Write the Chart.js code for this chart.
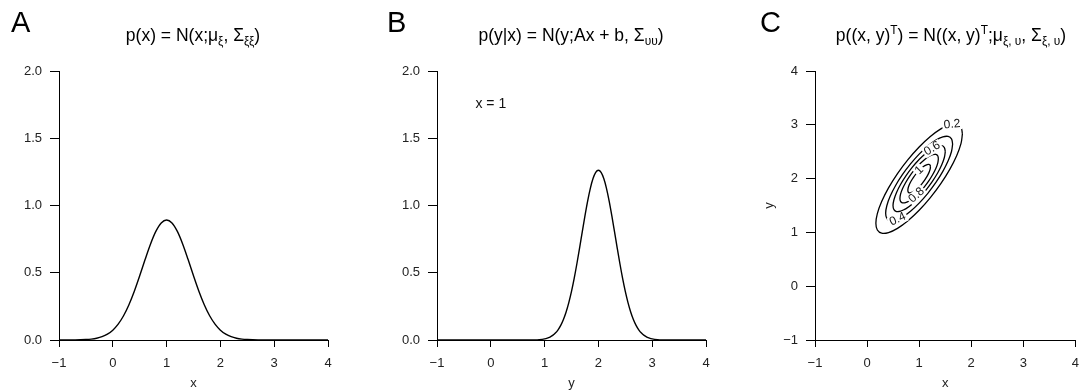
<!DOCTYPE html>
<html>
<head>
<meta charset="utf-8">
<script src="https://cdn.jsdelivr.net/npm/chart.js@4/dist/chart.umd.min.js"></script>
<style>
  html, body { margin: 0; padding: 0; background: #fff; overflow: hidden; }
  #stage { position: relative; width: 1088px; height: 391px; }
  canvas { position: absolute; top: 0; }
  .letter { position: absolute; top: 8px; font-family: "Liberation Sans", Arial, sans-serif; font-size: 29px; line-height: 29px; color: #000; }
  .title { position: absolute; top: 25px; width: 340px; text-align: center; font-family: "Liberation Sans", Arial, sans-serif;
           font-size: 17.5px; line-height: 20px; color: #000; white-space: nowrap; }
  .title sub { font-size: 68%; vertical-align: -0.35em; line-height: 0; }
  .title sup { font-size: 68%; vertical-align: 0.55em; line-height: 0; }
</style>
</head>
<body>
<div id="stage">
  <canvas id="panelA" width="378" height="391" style="left:0px"></canvas>
  <canvas id="panelB" width="378" height="391" style="left:378px"></canvas>
  <canvas id="panelC" width="332" height="391" style="left:756px"></canvas>

  <div class="letter" style="left:11px">A</div>
  <div class="letter" style="left:387px">B</div>
  <div class="letter" style="left:760px">C</div>

  <div class="title" style="left:23px">p(x) = N(x;μ<sub>ξ</sub>, Σ<sub>ξξ</sub>)</div>
  <div class="title" style="left:401px">p(y|x) = N(y;Ax + b, Σ<sub>υυ</sub>)</div>
  <div class="title" style="left:781px">p((x, y)<sup>T</sup>) = N((x, y)<sup>T</sup>;μ<sub>ξ, υ</sub>, Σ<sub>ξ, υ</sub>)</div>
</div>

<script>
// ---- axis ticks ----
const xTicks = [-1, 0, 1, 2, 3, 4];
const densityTicks = [0, 0.5, 1, 1.5, 2];
const jointYTicks = [-1, 0, 1, 2, 3, 4];

// ---- A: marginal density of x ----
const gridA = [-1.0, -0.9, -0.8, -0.7, -0.6, -0.5, -0.4, -0.3, -0.2, -0.1,
               0.0, 0.1, 0.2, 0.3, 0.4, 0.5, 0.6, 0.7, 0.8, 0.9, 1.0,
               1.1, 1.2, 1.3, 1.4, 1.5, 1.6, 1.7, 1.8, 1.9, 2.0,
               2.1, 2.2, 2.3, 2.4, 2.5, 2.6, 2.7, 2.8, 2.9, 3.0, 3.5, 4.0];
const densityA = [0.0000, 0.0001, 0.0003, 0.0006, 0.0015, 0.0032, 0.0066, 0.0130, 0.0244, 0.0433,
                  0.0732, 0.1178, 0.1801, 0.2621, 0.3627, 0.4775, 0.5980, 0.7124, 0.8072, 0.8701, 0.8921,
                  0.8701, 0.8072, 0.7124, 0.5980, 0.4775, 0.3627, 0.2621, 0.1801, 0.1178, 0.0732,
                  0.0433, 0.0244, 0.0130, 0.0066, 0.0032, 0.0015, 0.0006, 0.0003, 0.0001, 0.0000, 0.0000, 0.0000];

// ---- B: conditional density of y given x = 1 ----
const gridB = [-1.0, 0.0, 0.5, 0.6, 0.7, 0.8, 0.9,
               1.0, 1.05, 1.1, 1.15, 1.2, 1.25, 1.3, 1.35, 1.4, 1.45, 1.5, 1.55, 1.6, 1.65, 1.7, 1.75, 1.8, 1.85, 1.9, 1.95, 2.0,
               2.05, 2.1, 2.15, 2.2, 2.25, 2.3, 2.35, 2.4, 2.45, 2.5, 2.55, 2.6, 2.65, 2.7, 2.75, 2.8, 2.85, 2.9, 2.95, 3.0,
               3.1, 3.2, 3.3, 3.4, 3.5, 4.0];
const densityB = [0.0000, 0.0000, 0.0000, 0.0001, 0.0003, 0.0009, 0.0030,
                  0.0085, 0.0138, 0.0220, 0.0340, 0.0514, 0.0758, 0.1089, 0.1526, 0.2085, 0.2780, 0.3615, 0.4583, 0.5669, 0.6838, 0.8044, 0.9230, 1.0329, 1.1274, 1.2001, 1.2459, 1.2616,
                  1.2459, 1.2001, 1.1274, 1.0329, 0.9230, 0.8044, 0.6838, 0.5669, 0.4583, 0.3615, 0.2780, 0.2085, 0.1526, 0.1089, 0.0758, 0.0514, 0.0340, 0.0220, 0.0138, 0.0085,
                  0.0030, 0.0009, 0.0003, 0.0001, 0.0000, 0.0000];

// ---- C: joint density contours, one ring of (x, y) points per level ----
const contourLevels = [0.2, 0.4, 0.6, 0.8, 1];
const contour02 = [[1.831,2.831],[1.803,2.955],[1.720,3.014],[1.588,3.003],[1.416,2.925],[1.215,2.783],
                   [1.000,2.588],[0.785,2.353],[0.584,2.093],[0.412,1.828],[0.280,1.574],[0.197,1.349],
                   [0.169,1.169],[0.197,1.045],[0.280,0.986],[0.412,0.997],[0.584,1.075],[0.785,1.217],
                   [1.000,1.412],[1.215,1.647],[1.416,1.907],[1.588,2.172],[1.720,2.426],[1.803,2.651]];
const contour04 = [[1.643,2.643],[1.621,2.739],[1.557,2.784],[1.455,2.776],[1.322,2.716],[1.166,2.606],
                   [1.000,2.455],[0.834,2.273],[0.678,2.072],[0.545,1.867],[0.443,1.670],[0.379,1.496],
                   [0.357,1.357],[0.379,1.261],[0.443,1.216],[0.545,1.224],[0.678,1.284],[0.834,1.394],
                   [1.000,1.545],[1.166,1.727],[1.322,1.928],[1.455,2.133],[1.557,2.330],[1.621,2.504]];
const contour06 = [[1.502,2.502],[1.484,2.576],[1.434,2.612],[1.355,2.605],[1.251,2.558],[1.130,2.472],
                   [1.000,2.355],[0.870,2.213],[0.749,2.056],[0.645,1.896],[0.566,1.743],[0.516,1.607],
                   [0.498,1.498],[0.516,1.424],[0.566,1.388],[0.645,1.395],[0.749,1.442],[0.870,1.528],
                   [1.000,1.645],[1.130,1.787],[1.251,1.944],[1.355,2.104],[1.434,2.257],[1.484,2.393]];
const contour08 = [[1.369,2.369],[1.357,2.424],[1.320,2.451],[1.261,2.446],[1.185,2.411],[1.096,2.348],
                   [1.000,2.261],[0.904,2.157],[0.815,2.042],[0.739,1.923],[0.680,1.811],[0.643,1.711],
                   [0.631,1.631],[0.643,1.576],[0.680,1.549],[0.739,1.554],[0.815,1.589],[0.904,1.652],
                   [1.000,1.739],[1.096,1.843],[1.185,1.958],[1.261,2.077],[1.320,2.189],[1.357,2.289]];
const contour10 = [[1.217,2.217],[1.210,2.250],[1.188,2.265],[1.154,2.262],[1.109,2.242],[1.056,2.205],
                   [1.000,2.154],[0.944,2.092],[0.891,2.024],[0.846,1.955],[0.812,1.889],[0.790,1.830],
                   [0.783,1.783],[0.790,1.750],[0.812,1.735],[0.846,1.738],[0.891,1.758],[0.944,1.795],
                   [1.000,1.846],[1.056,1.908],[1.109,1.976],[1.154,2.045],[1.188,2.111],[1.210,2.170]];
const contourRings = [contour02, contour04, contour06, contour08, contour10];

// where each level's label sits on its ring, and the ring's direction there (degrees)
const contourLabelX = [1.632, 0.589, 1.251, 0.949, 1.000];
const contourLabelY = [3.007, 1.244, 2.558, 1.693, 2.154];
const contourLabelAngle = [-5, -24, -31, -42, -45];

// ---- shared styling ----
const TICK_FONT = { family: '"Liberation Sans", Arial, sans-serif', size: 13 };
const TITLE_FONT = { family: '"Liberation Sans", Arial, sans-serif', size: 13 };
const INK = '#000';

function fmt(v, digits) {
  const s = Math.abs(v).toFixed(digits);
  return v < 0 ? '\u2212' + s : s;
}

function xScale(title) {
  return {
    type: 'linear', min: -1, max: 4,
    afterBuildTicks: s => { s.ticks = xTicks.map(v => ({ value: v })); },
    afterFit: s => { s.height = 51; },
    ticks: { color: '#222', font: TICK_FONT, padding: 9, maxRotation: 0, autoSkip: false,
             callback: v => fmt(v, 0) },
    grid: { display: true, drawOnChartArea: false, drawTicks: true, tickLength: 7, color: INK, lineWidth: 1 },
    border: { display: true, color: INK, width: 1 },
    title: { display: true, text: title, color: '#222', font: TITLE_FONT, padding: { top: 0, bottom: 0 } }
  };
}

function yScale(min, max, ticks, digits, title) {
  return {
    type: 'linear', min: min, max: max,
    afterBuildTicks: s => { s.ticks = ticks.map(v => ({ value: v })); },
    afterFit: s => { s.width = 59; },
    ticks: { color: '#222', font: TICK_FONT, padding: 8, autoSkip: false,
             callback: v => fmt(v, digits) },
    grid: { display: true, drawOnChartArea: false, drawTicks: true, tickLength: 9, color: INK, lineWidth: 1 },
    border: { display: true, color: INK, width: 1 },
    title: title ? { display: true, text: title, color: '#222', font: TITLE_FONT, padding: { top: 6, bottom: 0 } }
                 : { display: false }
  };
}

function curve(xs, ys) {
  return {
    data: xs.map((x, i) => ({ x: x, y: ys[i] })),
    showLine: true, borderColor: INK, borderWidth: 1.4, pointRadius: 0,
    cubicInterpolationMode: 'monotone', clip: false
  };
}

function baseOptions(rightPad, scales) {
  return {
    responsive: false, animation: false, devicePixelRatio: 1,
    layout: { padding: { top: 71, right: rightPad, bottom: 0, left: 0 } },
    plugins: { legend: { display: false }, tooltip: { enabled: false } },
    scales: scales
  };
}

// text placed at data coordinates, optionally rotated, optionally knocked out of the lines below
function labelAt(chart, text, x, y, angleDeg, size, knockout) {
  const ctx = chart.ctx;
  const px = chart.scales.x.getPixelForValue(x);
  const py = chart.scales.y.getPixelForValue(y);
  ctx.save();
  ctx.translate(px, py);
  ctx.rotate(angleDeg * Math.PI / 180);
  ctx.font = size + 'px "Liberation Sans", Arial, sans-serif';
  ctx.textAlign = 'center';
  ctx.textBaseline = 'middle';
  if (knockout) {
    const w = ctx.measureText(text).width;
    ctx.fillStyle = '#fff';
    ctx.fillRect(-w / 2 - 1.5, -size * 0.45, w + 3, size * 0.9);
  }
  ctx.fillStyle = '#111';
  ctx.fillText(text, 0, 0);
  ctx.restore();
}

// ---- A ----
new Chart(document.getElementById('panelA'), {
  type: 'scatter',
  data: { datasets: [curve(gridA, densityA)] },
  options: baseOptions(50, { x: xScale('x'), y: yScale(0, 2, densityTicks, 1, null) })
});

// ---- B ----
new Chart(document.getElementById('panelB'), {
  type: 'scatter',
  data: { datasets: [curve(gridB, densityB)] },
  options: baseOptions(50, { x: xScale('y'), y: yScale(0, 2, densityTicks, 1, null) }),
  plugins: [{
    id: 'givenX',
    afterDatasetsDraw(chart) { labelAt(chart, 'x = 1', 0, 1.75, 0, 14, false); }
  }]
});

// ---- C ----
new Chart(document.getElementById('panelC'), {
  type: 'scatter',
  data: {
    datasets: contourRings.map((ring, i) => ({
      label: String(contourLevels[i]),
      data: ring.concat([ring[0]]).map(p => ({ x: p[0], y: p[1] })),
      showLine: true, borderColor: INK, borderWidth: 1.3, pointRadius: 0, tension: 0.4
    }))
  },
  options: baseOptions(5, { x: xScale('x'), y: yScale(-1, 4, jointYTicks, 0, 'y') }),
  plugins: [{
    id: 'contourLabels',
    afterDatasetsDraw(chart) {
      contourLevels.forEach((lv, i) => {
        labelAt(chart, String(lv), contourLabelX[i], contourLabelY[i], contourLabelAngle[i], 12, true);
      });
    }
  }]
});
</script>
</body>
</html>
